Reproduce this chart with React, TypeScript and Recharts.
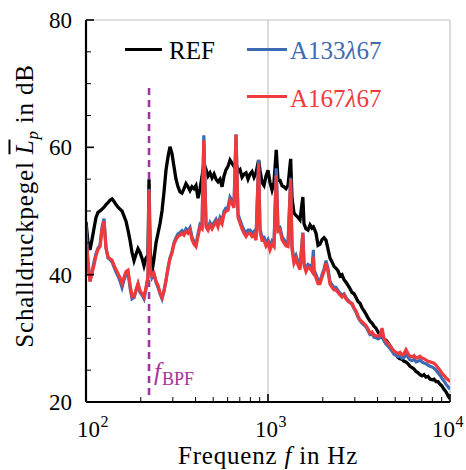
import { LineChart, Line, XAxis, YAxis, CartesianGrid, ReferenceLine } from 'recharts'

// Frequenz in Hz (gemeinsames Raster, Spitzen bei Vielfachen der BPF)
const freqHz = [
  100, 102.6, 105.2, 107.9, 110.7, 113.5, 116.4, 119.4, 122.5, 125.6,
  128.8, 132.1, 135.5, 139.0, 142.5, 146.2, 149.9, 153.8, 157.7, 161.8,
  165.9, 170.1, 174.5, 179.0, 183.6, 188.3, 193.1, 198.0, 203.1, 208.3,
  213.7, 219.1, 222, 224.8, 230.5, 236.4, 242.5, 248.7, 255.0, 261.6,
  268.3, 275.1, 282.2, 289.3, 296.8, 304.4, 312.2, 320.3, 328.5, 336.9,
  345.5, 354.4, 363.5, 372.8, 382.3, 392.1, 402.2, 412.6, 423.2, 434.0,
  444, 456.6, 468.2, 480.2, 492.6, 505.2, 518.1, 531.4, 545.0, 559.0,
  573.4, 588.1, 602.9, 618.4, 634.3, 650.6, 667, 684.3, 701.9, 719.9,
  738.3, 757.2, 776.8, 796.7, 817.1, 838.1, 859.5, 888, 903.6, 927.0,
  950.8, 975.1, 1000, 1025.6, 1051.9, 1078.9, 1110, 1135, 1164, 1194,
  1224, 1256, 1288, 1332, 1355, 1389, 1425, 1462, 1499, 1554,
  1577, 1617, 1659, 1702, 1745, 1776, 1790, 1836, 1883, 1931,
  1981, 2031, 2084, 2137, 2191, 2248, 2305, 2364, 2425, 2487,
  2551, 2616, 2683, 2752, 2822, 2895, 2969, 3045, 3123, 3202,
  3285, 3369, 3455, 3544, 3635, 3728, 3823, 3921, 4022, 4125,
  4230, 4339, 4450, 4564, 4682, 4801, 4925, 5051, 5180, 5313,
  5449, 5589, 5732, 5879, 6029, 6184, 6342, 6505, 6671, 6843,
  7018, 7198, 7382, 7571, 7765, 7964, 8168, 8378, 8592, 8812,
  9038, 9270, 9507, 9751, 10000,
]

// Schalldruckpegel in dB
const levelRef = [
  48.3, 45.0, 43.9, 45.5, 47.3, 49.0, 49.8, 50.0, 50.3, 50.6,
  51.0, 51.3, 51.7, 51.9, 51.5, 51.0, 50.6, 50.3, 50.0, 49.2,
  48.4, 47.0, 45.4, 43.5, 42.2, 43.2, 44.1, 43.5, 42.6, 41.4,
  42.6, 43.0, 55.0, 44.0, 40.5, 42.5, 45.0, 46.5, 48.0, 50.0,
  53.0, 56.4, 58.5, 60.1, 59.0, 57.0, 55.0, 53.8, 53.0, 52.8,
  53.5, 54.3, 53.8, 53.2, 53.8, 53.5, 54.0, 52.0, 53.5, 55.4,
  57.5, 56.5, 55.5, 56.0, 55.2, 55.8, 55.0, 54.6, 55.0, 53.8,
  55.5, 56.5, 57.0, 58.0, 57.5, 57.0, 57.5, 56.2, 56.5, 55.3,
  55.8, 56.0, 55.0, 55.8, 56.2, 55.3, 56.0, 58.0, 56.4, 54.5,
  54.0, 55.5, 56.4, 54.5, 53.3, 54.5, 59.6, 54.8, 54.8, 54.0,
  53.8, 53.5, 54.0, 58.2, 52.0, 49.7, 49.3, 49.0, 48.6, 52.2,
  48.0, 47.2, 47.0, 47.8, 47.3, 47.5, 47.3, 46.5, 44.6, 44.8,
  45.5, 45.8, 45.4, 44.0, 42.6, 42.0, 41.3, 41.0, 40.6, 39.8,
  40.0, 39.2, 38.8, 38.3, 37.8, 37.2, 37.0, 36.4, 35.8, 35.5,
  34.8, 34.3, 33.8, 33.2, 32.7, 32.4, 31.9, 31.6, 31.0, 30.5,
  30.2, 29.8, 29.7, 29.3, 28.8, 28.3, 27.9, 27.5, 27.0, 26.8,
  26.7, 26.4, 26.3, 26.0, 25.6, 25.4, 25.2, 24.8, 24.6, 24.3,
  24.1, 24.3, 23.9, 24.0, 23.6, 23.5, 23.6, 23.2, 23.2, 22.8,
  22.5, 22.0, 21.6, 21.0, 20.5,
]

const levelA133 = [
  47.8, 41.5, 39.0, 40.5, 42.0, 43.3, 44.2, 44.6, 47.5, 48.8,
  44.2, 42.6, 42.4, 42.0, 41.2, 40.4, 39.8, 39.0, 38.0, 39.2,
  40.0, 40.4, 38.0, 36.2, 36.4, 37.5, 38.5, 37.2, 36.8, 36.2,
  37.8, 39.5, 53.5, 41.5, 39.5, 40.0, 38.8, 38.0, 37.0, 36.2,
  37.4, 39.0, 41.0, 42.6, 43.6, 45.0, 45.8, 46.4, 46.6, 46.9,
  46.5, 47.2, 46.9, 47.4, 45.9, 45.2, 44.8, 46.4, 47.9, 47.6,
  61.9, 47.9, 47.4, 48.2, 47.6, 48.2, 48.7, 47.9, 49.0, 48.5,
  50.0, 50.5, 50.6, 52.2, 51.7, 51.0, 62.0, 49.5, 48.6, 47.7,
  47.0, 46.5, 47.0, 47.0, 46.5, 46.8, 45.9, 58.0, 47.2, 45.9,
  45.9, 45.0, 45.5, 44.4, 45.3, 44.9, 56.7, 47.2, 47.4, 46.0,
  45.5, 45.0, 44.9, 55.2, 44.5, 42.3, 43.0, 42.0, 41.2, 46.6,
  41.8, 41.0, 41.6, 41.4, 41.0, 43.9, 40.7, 40.0, 39.1, 39.0,
  40.0, 40.9, 42.2, 40.9, 38.9, 38.4, 38.0, 38.0, 37.5, 37.1,
  36.8, 37.0, 36.4, 36.0, 35.7, 35.3, 34.7, 34.1, 33.3, 32.8,
  32.4, 32.1, 31.8, 31.2, 30.6, 30.7, 30.2, 30.1, 29.9, 30.1,
  31.2, 29.6, 29.1, 28.8, 28.4, 28.0, 27.5, 27.3, 27.1, 27.2,
  26.9, 27.0, 27.5, 27.0, 26.6, 26.5, 26.7, 26.3, 26.4, 26.6,
  26.3, 26.1, 26.0, 25.8, 25.6, 25.5, 25.3, 25.0, 24.6, 24.2,
  23.7, 23.3, 22.8, 22.4, 22.0,
]

const levelA167 = [
  46.0, 42.0, 38.9, 40.2, 41.5, 43.0, 44.0, 44.4, 47.0, 48.4,
  44.2, 42.8, 42.5, 42.3, 41.5, 40.8, 40.2, 39.5, 38.6, 39.6,
  40.5, 40.7, 38.5, 36.6, 36.5, 37.6, 38.6, 37.5, 37.0, 36.5,
  38.0, 39.7, 53.3, 41.0, 39.8, 40.2, 39.0, 38.3, 37.2, 36.4,
  37.5, 39.2, 41.0, 42.5, 43.4, 44.8, 45.5, 46.0, 46.2, 46.5,
  46.2, 46.8, 46.5, 47.0, 45.5, 44.8, 44.4, 46.0, 47.5, 47.2,
  61.1, 47.5, 47.0, 47.8, 47.2, 47.8, 48.3, 47.5, 48.6, 48.0,
  49.5, 50.0, 50.1, 51.7, 51.2, 50.5, 62.0, 49.0, 48.1, 47.2,
  46.5, 46.0, 46.5, 46.5, 46.0, 46.3, 45.4, 57.5, 46.8, 45.4,
  45.4, 44.5, 45.0, 43.9, 44.8, 44.4, 55.6, 46.8, 47.0, 45.5,
  45.0, 44.5, 44.4, 55.0, 44.0, 41.8, 42.5, 41.5, 40.8, 46.5,
  41.5, 40.5, 41.2, 41.0, 40.5, 42.8, 40.2, 39.5, 38.6, 38.6,
  39.6, 40.5, 41.8, 40.5, 38.5, 38.0, 37.6, 37.6, 37.2, 36.8,
  36.5, 36.8, 36.2, 35.8, 35.6, 35.5, 34.8, 34.3, 33.5, 32.9,
  32.6, 32.3, 32.0, 31.5, 30.8, 31.0, 30.5, 30.4, 30.3, 30.5,
  31.6, 30.0, 29.5, 29.2, 28.8, 28.4, 28.0, 27.8, 27.6, 27.8,
  27.4, 27.6, 28.2, 27.6, 27.2, 27.1, 27.3, 26.9, 27.0, 27.2,
  26.9, 26.8, 26.6, 26.4, 26.3, 26.2, 26.1, 25.8, 25.4, 25.0,
  24.5, 24.2, 23.8, 23.5, 23.2,
]

const xTicks = [100, 200, 300, 400, 500, 600, 700, 800, 900, 1000, 2000, 3000, 4000, 5000, 6000, 7000, 8000, 9000, 10000]
const yTicks = [20, 25, 30, 35, 40, 45, 50, 55, 60, 65, 70, 75, 80]
const fBpf = 222
const bpfSpan = [21.1, 69.3]

const fontSerif = 'Liberation Serif'
const cRef = '#000000'
const cA133 = '#3c6bb4'
const cA167 = '#ee3a3d'
const cBpf = '#a3349b'

// horizontaler Versatz der Dekadenbeschriftung wie im Original
const decadeShift: Record<number, number> = { 2: -9, 3: -13, 4: -18 }

const rows = freqHz.map((f, i) => ({ f, ref: levelRef[i], a133: levelA133[i], a167: levelA167[i] }))

const XTick = (props: any) => {
  const { x, y, payload } = props
  const v = payload.value as number
  const exp = Math.round(Math.log10(v))
  const major = Math.abs(v - 10 ** exp) < 1e-6
  const sx = x + (decadeShift[exp] ?? -11)
  return (
    <g>
      <line x1={x} x2={x} y1={y} y2={y - (major ? 8 : 5)} stroke="#000" strokeWidth={major ? 1.6 : 1} />
      {major && (
        <text x={sx} y={y + 35} style={{ fontFamily: fontSerif }} fontSize={23} fill="#000">10</text>
      )}
      {major && (
        <text x={sx + 23.5} y={y + 25} style={{ fontFamily: fontSerif }} fontSize={16} fill="#000">{exp}</text>
      )}
    </g>
  )
}

const YTick = (props: any) => {
  const { x, y, payload } = props
  const v = payload.value as number
  const major = v % 20 === 0
  return (
    <g>
      <line x1={x} x2={x + (major ? 8 : 5)} y1={y} y2={y} stroke="#000" strokeWidth={major ? 1.6 : 1} />
      {major && (
        <text x={x - 14} y={y} dy="0.35em" textAnchor="end" style={{ fontFamily: fontSerif }} fontSize={23} fill="#000">{v}</text>
      )}
    </g>
  )
}

const txt: React.CSSProperties = { position: 'absolute', fontFamily: fontSerif, fontSize: 25, whiteSpace: 'nowrap', lineHeight: 1 }

export default function App() {
  return (
    <div style={{ position: 'absolute', left: 0, top: 0, width: 466, height: 470, background: '#fff', overflow: 'hidden', fontFamily: fontSerif }}>
      <LineChart width={466} height={470} data={rows} margin={{ top: 20, right: 16, bottom: 0, left: 0 }} style={{ fontFamily: fontSerif }}>
        <CartesianGrid xAxisId="grid" yAxisId="grid" stroke="#c4c4c4" strokeWidth={1.2} />
        <XAxis
          dataKey="f" type="number" scale="log" domain={[100, 10000]} ticks={xTicks} interval={0}
          tickSize={0} tickMargin={0} tickLine={false} tick={<XTick />} height={68}
          axisLine={{ stroke: '#000', strokeWidth: 2.2 }} allowDataOverflow
        />
        <XAxis xAxisId="grid" dataKey="f" type="number" scale="log" domain={[100, 10000]} ticks={[100, 1000, 10000]} hide />
        <XAxis
          xAxisId="top" orientation="top" dataKey="f" type="number" scale="log" domain={[100, 10000]}
          tick={false} tickLine={false} height={0} axisLine={{ stroke: '#111', strokeWidth: 1.3 }}
        />
        <YAxis
          type="number" domain={[20, 80]} ticks={yTicks} interval={0} tickSize={0} tickMargin={0}
          tickLine={false} tick={<YTick />} width={86} axisLine={{ stroke: '#000', strokeWidth: 2.2 }} allowDataOverflow
        />
        <YAxis yAxisId="grid" type="number" domain={[20, 80]} ticks={[20, 40, 60, 80]} hide />
        <YAxis
          yAxisId="right" orientation="right" type="number" domain={[20, 80]} tick={false} tickLine={false}
          width={0} axisLine={{ stroke: '#111', strokeWidth: 1.6 }}
        />
        <ReferenceLine
          segment={[{ x: fBpf, y: bpfSpan[0] }, { x: fBpf, y: bpfSpan[1] }]}
          stroke={cBpf} strokeWidth={2.6} strokeDasharray="7 5" ifOverflow="visible"
        />
        <Line dataKey="ref" stroke={cRef} strokeWidth={3.3} dot={false} isAnimationActive={false} />
        <Line dataKey="a133" stroke={cA133} strokeWidth={3.2} dot={false} isAnimationActive={false} />
        <Line dataKey="a167" stroke={cA167} strokeWidth={3.2} dot={false} isAnimationActive={false} />
      </LineChart>

      {/* Legende */}
      <div style={{ position: 'absolute', left: 125, top: 48, width: 37, height: 3, background: cRef }} />
      <div style={{ ...txt, left: 169, top: 38, color: cRef }}>REF</div>
      <div style={{ position: 'absolute', left: 247, top: 48, width: 40, height: 3, background: cA133 }} />
      <div style={{ ...txt, left: 290, top: 38, color: cA133 }}>A133<i>λ</i>67</div>
      <div style={{ position: 'absolute', left: 247, top: 95, width: 40, height: 3, background: cA167 }} />
      <div style={{ ...txt, left: 290, top: 86, color: cA167 }}>A167<i>λ</i>67</div>

      {/* f_BPF */}
      <div style={{ ...txt, left: 154, top: 359, color: cBpf }}>
        <i>f</i><span style={{ fontSize: 18, position: 'relative', top: 5, marginLeft: 1 }}>BPF</span>
      </div>

      {/* Achsentitel */}
      <div style={{ ...txt, left: 268, top: 443, transform: 'translateX(-50%)', letterSpacing: 0.8 }}>
        Frequenz <i>f</i> in Hz
      </div>
      <div
        style={{
          ...txt, left: 24, top: 206, transform: 'translate(-50%, -50%) rotate(-90deg)', letterSpacing: 0.8,
        }}
      >
        Schalldruckpegel <i style={{ textDecoration: 'overline' }}>L</i>
        <i style={{ fontSize: 17, position: 'relative', top: 5 }}>p</i> in dB
      </div>
    </div>
  )
}
